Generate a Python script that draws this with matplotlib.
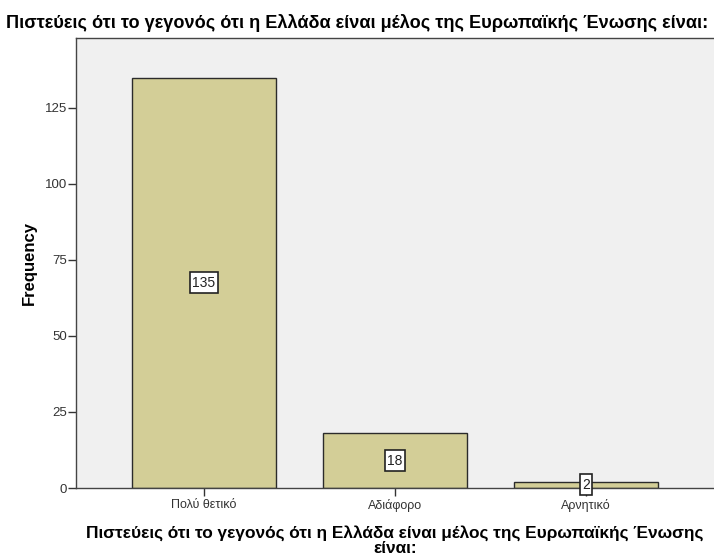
import matplotlib
matplotlib.use("Agg")
import matplotlib.pyplot as plt
from matplotlib.path import Path

plt.rcParams['font.family'] = ['Liberation Sans', 'DejaVu Sans']

# Data
categories = ['Πολύ θετικό', 'Αδιάφορο', 'Αρνητικό']
counts = [135, 18, 2]
y_ticks = [0, 25, 50, 75, 100, 125]

title = 'Πιστεύεις ότι το γεγονός ότι η Ελλάδα είναι μέλος της Ευρωπαϊκής Ένωσης είναι:'
xlabel = 'Πιστεύεις ότι το γεγονός ότι η Ελλάδα είναι μέλος της Ευρωπαϊκής Ένωσης\nείναι:'


# label box: narrow side padding, taller top/bottom like SPSS
def tall_box(x0, y0, width, height, mutation_size):
    px = 0.15 * mutation_size
    py = 0.25 * mutation_size
    x1, y1 = x0 + width + px, y0 + height + py
    x0, y0 = x0 - px, y0 - py
    return Path([(x0, y0), (x1, y0), (x1, y1), (x0, y1), (x0, y0)], closed=True)


fig = plt.figure(figsize=(7.14, 5.56), dpi=100)
ax = fig.add_axes([0.1064, 0.1223, 0.8936, 0.8094])
ax.set_facecolor('#F0F0F0')

x = list(range(len(categories)))
ax.bar(x, counts, width=0.75, color='#D3CE97', edgecolor='#2b2b2b', linewidth=1.0)

for xi, c in zip(x, counts):
    ax.text(xi, c / 2, str(c), ha='center', va='center', fontsize=10, color='#222222',
            bbox=dict(boxstyle=tall_box, facecolor='white', edgecolor='#222222', linewidth=1.2))

ax.set_xlim(-0.67, 2.67)
ax.set_ylim(0, 148)
ax.set_xticks(x)
ax.set_xticklabels(categories, fontsize=9, color='#333333')
ax.set_yticks(y_ticks)
ax.set_yticklabels([str(t) for t in y_ticks], fontsize=9.5, color='#333333')
ax.tick_params(axis='both', direction='out', length=5.5, width=1, color='#333333')
ax.tick_params(axis='y', pad=1)
ax.tick_params(axis='x', pad=2.5)

for s in ['left', 'top', 'bottom']:
    ax.spines[s].set_color('#444444')
    ax.spines[s].set_linewidth(1.0)
ax.spines['right'].set_visible(False)

ax.set_ylabel('Frequency', fontsize=12, fontweight='bold', labelpad=5.5)
ax.set_xlabel(xlabel, fontsize=12.4, fontweight='bold', labelpad=9.5, linespacing=0.95)
fig.text(0.5, 1 - 23 / 556, title, ha='center', va='center', fontsize=13.1, fontweight='bold')

fig.savefig('out.png', dpi=100)
